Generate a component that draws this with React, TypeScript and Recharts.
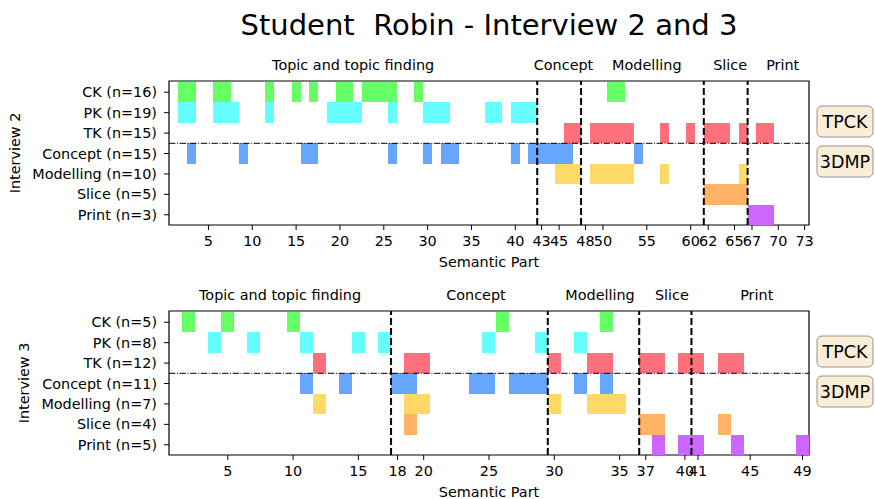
import React from 'react';
import { BarChart, Bar, XAxis, YAxis, ReferenceLine, ReferenceArea } from 'recharts';

// ---------- shared ----------
const rowNames = ['CK', 'PK', 'TK', 'Concept', 'Modelling', 'Slice', 'Print'];
const rowColors = ['#66ff66', '#66ffff', '#ff6f7c', '#66a6ff', '#ffd966', '#ffb366', '#cc66ff'];
const boxLabels = ['TPCK', '3DMP'];
const phaseNames = ['Topic and topic finding', 'Concept', 'Modelling', 'Slice', 'Print'];

// ---------- Interview 2 ----------
const i2Total = 73;
const i2CK = [2, 3, 6, 7, 12, 15, 17, 20, 21, 23, 24, 25, 26, 29, 51, 52];
const i2PK = [2, 3, 6, 7, 8, 12, 19, 20, 21, 22, 26, 30, 31, 32, 37, 38, 40, 41, 42];
const i2TK = [46, 47, 49, 50, 51, 52, 53, 57, 60, 62, 63, 64, 66, 68, 69];
const i2Concept = [3, 9, 16, 17, 26, 30, 32, 33, 40, 42, 43, 44, 45, 46, 54];
const i2Modelling = [45, 46, 47, 49, 50, 51, 52, 53, 57, 66];
const i2Slice = [62, 63, 64, 65, 66];
const i2Print = [67, 68, 69];
const i2PhaseStarts = [1, 43, 48, 62, 67];
const i2Ticks = [5, 10, 15, 20, 25, 30, 35, 40, 43, 45, 48, 50, 55, 60, 62, 65, 67, 70, 73];

// ---------- Interview 3 ----------
const i3Total = 49;
const i3CK = [2, 5, 10, 26, 34];
const i3PK = [4, 7, 11, 15, 17, 25, 29, 32];
const i3TK = [12, 19, 20, 30, 33, 34, 37, 38, 40, 41, 43, 44];
const i3Concept = [11, 14, 18, 19, 24, 25, 27, 28, 29, 32, 34];
const i3Modelling = [12, 19, 20, 30, 33, 34, 35];
const i3Slice = [19, 37, 38, 43];
const i3Print = [38, 40, 41, 44, 49];
const i3PhaseStarts = [1, 18, 30, 37, 41];
const i3Ticks = [5, 10, 15, 18, 20, 25, 30, 35, 37, 40, 41, 45, 49];

const FS = 14.4;

function buildData(total: number, rows: number[][]) {
  const out: any[] = [];
  for (let p = 1; p <= total; p++) {
    const d: any = { part: p };
    rows.forEach((r, i) => {
      d['r' + i] = r.includes(p) ? [i - 0.5, i + 0.5] : null;
    });
    out.push(d);
  }
  return out;
}

const renderBoxes = (p: any) => {
  const vb = p.viewBox;
  if (!vb) return null;
  const x = vb.x + vb.width + 8;
  const w = 56;
  return (
    <g>
      {boxLabels.map((t, i) => {
        const y = vb.y + 25 + i * 40;
        return (
          <g key={t}>
            <rect x={x} y={y} width={w} height={31} rx={5} ry={5} fill="#faeed9" stroke="#9a9288" strokeWidth={1} />
            <text x={x + w / 2} y={y + 22} textAnchor="middle" fontSize={17.5} fill="#000">{t}</text>
          </g>
        );
      })}
    </g>
  );
};

const makePhaseLabel = (name: string, shiftHalf: boolean, count: number) => (p: any) => {
  const vb = p.viewBox;
  if (!vb) return null;
  const half = shiftHalf ? vb.width / count / 2 : 0;
  return (
    <text x={vb.x + vb.width / 2 + half} y={vb.y - 11.5} textAnchor="middle" fontSize={FS} fill="#000">
      {name}
    </text>
  );
};

type TLProps = {
  total: number;
  rows: number[][];
  phaseStarts: number[];
  ticks: number[];
  ylabel: string;
  ylabelX: number;
};

function Timeline({ total, rows, phaseStarts, ticks, ylabel, ylabelX }: TLProps) {
  const data = buildData(total, rows);
  const labels = rowNames.map((n, i) => `${n} (n=${rows[i].length})`);
  const phaseEnds = phaseStarts.map((s, i) => (i < phaseStarts.length - 1 ? phaseStarts[i + 1] - 1 : total));
  return (
    <BarChart
      width={875}
      height={269}
      data={data}
      margin={{ top: 81, right: 66, left: 0, bottom: 0 }}
      barCategoryGap={0}
      barGap={0}
    >
      <XAxis
        xAxisId={0}
        dataKey="part"
        type="category"
        ticks={ticks}
        interval={0}
        height={44}
        tickSize={5}
        tickMargin={6}
        axisLine={false}
        tickLine={{ stroke: '#000' }}
        tick={{ fill: '#000', fontSize: FS }}
        label={{ value: 'Semantic Part', position: 'insideBottom', offset: 2, fill: '#000', fontSize: FS }}
      />
      {rows.slice(1).map((_, k) => (
        <XAxis key={'ax' + (k + 1)} xAxisId={k + 1} dataKey="part" type="category" hide />
      ))}
      <YAxis
        type="number"
        domain={[-0.55, 6.5]}
        reversed
        ticks={[0, 1, 2, 3, 4, 5, 6]}
        interval={0}
        width={169}
        tickSize={5}
        tickMargin={7}
        axisLine={false}
        tickLine={{ stroke: '#000' }}
        tick={{ fill: '#000', fontSize: FS }}
        tickFormatter={(v: number) => labels[v]}
        label={{
          value: ylabel,
          angle: -90,
          position: 'insideLeft',
          offset: ylabelX,
          fill: '#000',
          fontSize: FS,
          style: { textAnchor: 'middle' },
        }}
      />
      {rows.map((_, i) => (
        <Bar
          key={'bar' + i}
          xAxisId={i}
          dataKey={'r' + i}
          fill={rowColors[i]}
          isAnimationActive={false}
          shapeRendering="crispEdges"
        />
      ))}
      {phaseStarts.slice(1).map((s) => (
        <ReferenceLine key={'v' + s} x={s} position="start" stroke="#000" strokeWidth={2} strokeDasharray="7 3" />
      ))}
      <ReferenceLine y={2.5} stroke="#000" strokeWidth={1} strokeDasharray="6.4 1.6 1 1.6" />
      {phaseStarts.map((s, i) => (
        <ReferenceArea
          key={'ph' + s}
          x1={s}
          x2={phaseEnds[i]}
          y1={-0.55}
          y2={6.5}
          fill="none"
          stroke="none"
          label={makePhaseLabel(phaseNames[i], i > 0, phaseEnds[i] - s + 1)}
        />
      ))}
      <ReferenceArea y1={-0.55} y2={6.5} fill="none" stroke="#000" strokeWidth={1.2} label={renderBoxes} />
    </BarChart>
  );
}

export default function App() {
  return (
    <div
      style={{
        position: 'absolute',
        left: 0,
        top: 0,
        width: 875,
        height: 499,
        overflow: 'hidden',
        background: '#fff',
        fontFamily: '"DejaVu Sans", sans-serif',
      }}
    >
      <div style={{ position: 'absolute', left: 0, top: 0 }}>
        <Timeline
          total={i2Total}
          rows={[i2CK, i2PK, i2TK, i2Concept, i2Modelling, i2Slice, i2Print]}
          phaseStarts={i2PhaseStarts}
          ticks={i2Ticks}
          ylabel="Interview 2"
          ylabelX={14.5}
        />
      </div>
      <div style={{ position: 'absolute', left: 0, top: 230 }}>
        <Timeline
          total={i3Total}
          rows={[i3CK, i3PK, i3TK, i3Concept, i3Modelling, i3Slice, i3Print]}
          phaseStarts={i3PhaseStarts}
          ticks={i3Ticks}
          ylabel="Interview 3"
          ylabelX={23.5}
        />
      </div>
      <svg width={875} height={50} style={{ position: 'absolute', left: 0, top: 0 }}>
        <text x={489} y={35} textAnchor="middle" fontSize={29} fill="#000" style={{ whiteSpace: 'pre' }}>
          {'Student  Robin - Interview 2 and 3'}
        </text>
      </svg>
    </div>
  );
}
